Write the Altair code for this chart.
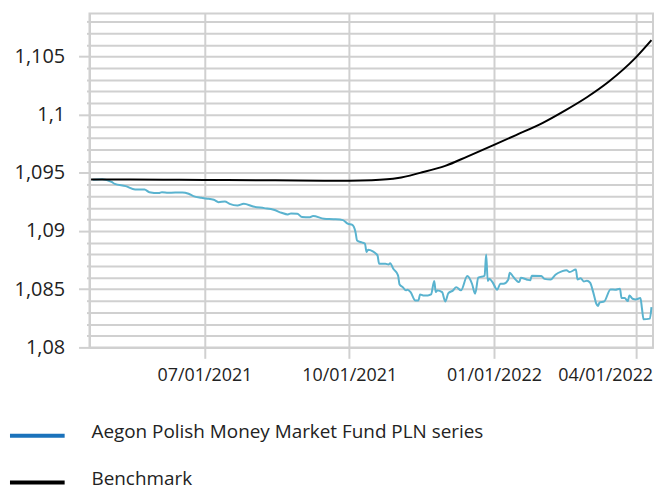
import altair as alt
import pandas as pd

# ---- data ----
fund_dates = [
    "2021-04-21", "2021-04-27", "2021-05-03", "2021-05-05", "2021-05-12", "2021-05-18",
    "2021-05-24", "2021-05-27", "2021-06-02", "2021-06-04", "2021-06-08", "2021-06-17",
    "2021-06-21", "2021-06-24", "2021-06-29", "2021-07-02", "2021-07-07", "2021-07-10",
    "2021-07-14", "2021-07-17", "2021-07-22", "2021-07-26", "2021-08-01", "2021-08-08",
    "2021-08-14", "2021-08-19", "2021-08-23", "2021-08-25", "2021-08-29", "2021-09-01",
    "2021-09-06", "2021-09-08", "2021-09-15", "2021-09-21", "2021-09-27", "2021-09-30",
    "2021-10-03", "2021-10-05", "2021-10-06", "2021-10-09", "2021-10-11", "2021-10-12",
    "2021-10-13", "2021-10-16", "2021-10-18", "2021-10-19", "2021-10-20", "2021-10-24",
    "2021-10-26", "2021-10-27", "2021-10-29", "2021-11-01", "2021-11-02", "2021-11-04",
    "2021-11-06", "2021-11-07", "2021-11-09", "2021-11-12", "2021-11-14", "2021-11-15",
    "2021-11-17", "2021-11-20", "2021-11-22", "2021-11-24", "2021-11-25", "2021-11-26",
    "2021-11-29", "2021-12-01", "2021-12-03", "2021-12-06", "2021-12-08", "2021-12-11",
    "2021-12-15", "2021-12-18", "2021-12-20", "2021-12-22", "2021-12-26", "2021-12-27",
    "2021-12-28", "2021-12-29", "2021-12-31", "2022-01-03", "2022-01-05", "2022-01-07",
    "2022-01-10", "2022-01-11", "2022-01-13", "2022-01-17", "2022-01-18", "2022-01-22",
    "2022-01-24", "2022-01-25", "2022-01-31", "2022-02-02", "2022-02-06", "2022-02-09",
    "2022-02-13", "2022-02-16", "2022-02-18", "2022-02-22", "2022-02-23", "2022-02-25",
    "2022-02-27", "2022-03-01", "2022-03-03", "2022-03-05", "2022-03-07", "2022-03-08",
    "2022-03-09", "2022-03-12", "2022-03-16", "2022-03-19", "2022-03-22", "2022-03-23",
    "2022-03-25", "2022-03-27", "2022-03-28", "2022-03-30", "2022-04-01", "2022-04-04",
    "2022-04-05", "2022-04-06", "2022-04-10", "2022-04-11",
]
fund_values = [
    1.09441, 1.09446, 1.09423, 1.09406, 1.09386, 1.09357,
    1.09357, 1.09334, 1.09326, 1.09334, 1.09329, 1.09332,
    1.09320, 1.09300, 1.09286, 1.09280, 1.09269, 1.09248,
    1.09254, 1.09234, 1.09220, 1.09234, 1.09211, 1.09197,
    1.09183, 1.09157, 1.09143, 1.09151, 1.09149, 1.09121,
    1.09119, 1.09130, 1.09106, 1.09102, 1.09094, 1.09063,
    1.09052, 1.08990, 1.08919, 1.08902, 1.08891, 1.08819,
    1.08839, 1.08825, 1.08805, 1.08790, 1.08719, 1.08719,
    1.08713, 1.08724, 1.08676, 1.08619, 1.08541, 1.08518,
    1.08490, 1.08496, 1.08475, 1.08404, 1.08404, 1.08455,
    1.08447, 1.08447, 1.08455, 1.08570, 1.08475, 1.08490,
    1.08475, 1.08395, 1.08466, 1.08490, 1.08518, 1.08490,
    1.08613, 1.08547, 1.08461, 1.08599, 1.08616, 1.08799,
    1.08570, 1.08590, 1.08561, 1.08496, 1.08547, 1.08547,
    1.08582, 1.08642, 1.08610, 1.08561, 1.08599, 1.08582,
    1.08576, 1.08616, 1.08613, 1.08589, 1.08584, 1.08625,
    1.08653, 1.08664, 1.08647, 1.08670, 1.08584, 1.08595,
    1.08567, 1.08573, 1.08556, 1.08475, 1.08375, 1.08355,
    1.08384, 1.08395, 1.08498, 1.08496, 1.08504, 1.08424,
    1.08424, 1.08398, 1.08447, 1.08418, 1.08412, 1.08424,
    1.08332, 1.08241, 1.08247, 1.08346,
]
bench_dates = [
    "2021-04-20", "2021-05-15", "2021-06-15", "2021-07-15", "2021-08-15", "2021-09-15",
    "2021-10-01", "2021-10-15", "2021-11-01", "2021-11-15", "2021-12-01", "2021-12-15",
    "2022-01-01", "2022-01-15", "2022-02-01", "2022-02-15", "2022-03-01", "2022-03-15",
    "2022-04-01", "2022-04-11",
]
bench_values = [
    1.09442, 1.09442, 1.09440, 1.09438, 1.09436, 1.09433,
    1.09432, 1.09436, 1.09455, 1.09500, 1.09560, 1.09640,
    1.09740, 1.09825, 1.09930, 1.10035, 1.10150, 1.10285,
    1.10490, 1.10640,
]
series_names = ["Aegon Polish Money Market Fund PLN series", "Benchmark"]
line_colors = ["#5ab3cf", "#000000"]
legend_colors = ["#1a72bb", "#000000"]
y_major_ticks = [1.08, 1.085, 1.09, 1.095, 1.1, 1.105]
x_tick_dates = [(2021, 7, 1), (2021, 10, 1), (2022, 1, 1), (2022, 4, 1)]

df = pd.concat([
    pd.DataFrame({"date": fund_dates, "value": fund_values, "series": series_names[0]}),
    pd.DataFrame({"date": bench_dates, "value": bench_values, "series": series_names[1]}),
])

FONT = "Open Sans"
GRID = "#d0d0d0"
W, H = 567, 336

y_grid_values = [round(1.08 + i * 0.001, 3) for i in range(29)]
is_major = "abs(datum.value*200 - round(datum.value*200)) < 0.01"

x_axis = alt.Axis(
    values=[alt.DateTime(year=y, month=m, date=d, utc=True) for (y, m, d) in x_tick_dates],
    format="%m/%d/%Y", title=None, grid=True, gridColor=GRID, gridWidth=2,
    domainColor=GRID, domainWidth=2, tickColor=GRID, tickWidth=2, tickSize=11,
    labelFont=FONT, labelFontSize=18, labelColor="#222222", labelPadding=8,
    labelFlush=20, labelFlushOffset=17,
)
y_axis = alt.Axis(
    values=y_grid_values, title=None, grid=True, gridColor=GRID, gridWidth=2,
    domainColor=GRID, domainWidth=2, tickColor=GRID, tickWidth=2,
    tickSize={"condition": {"test": is_major, "value": 11}, "value": 3},
    labelExpr=f"({is_major}) ? replace(format(datum.value, '.3~f'), '.', ',') : ''",
    labelFont=FONT, labelFontSize=20, labelColor="#222222", labelPadding=14,
    minExtent=80, maxExtent=80,
)

lines = alt.Chart(df).mark_line(strokeWidth=2, interpolate="monotone").encode(
    x=alt.X("date:T", axis=x_axis,
            scale=alt.Scale(type="utc", domain=[alt.DateTime(year=2021, month=4, date=19, utc=True),
                                                 alt.DateTime(year=2022, month=4, date=12, utc=True)])),
    y=alt.Y("value:Q", axis=y_axis, scale=alt.Scale(domain=[1.08, 1.1087], nice=False, zero=False)),
    color=alt.Color("series:N", scale=alt.Scale(domain=series_names, range=line_colors), legend=None),
)

legend_layers = []
for i, (name, col) in enumerate(zip(series_names, legend_colors)):
    ly = 425 + i * 47
    src = alt.Data(values=[{"label": name}])
    legend_layers.append(
        alt.Chart(src).mark_rule(strokeWidth=4, color=col).encode(
            x=alt.value(-80), x2=alt.value(-25), y=alt.value(ly))
    )
    legend_layers.append(
        alt.Chart(src).mark_text(align="left", baseline="middle", font=FONT, fontSize=19,
                                 color="#222222").encode(
            x=alt.value(2), y=alt.value(ly - 4), text="label:N")
    )

chart = alt.layer(lines, *legend_layers).properties(
    width=W, height=H, padding={"left": 0, "top": 4, "right": 0, "bottom": 0}
).configure_view(stroke=GRID, strokeWidth=2)

chart.save("out.html", embed_options={"renderer": "svg", "actions": False})
